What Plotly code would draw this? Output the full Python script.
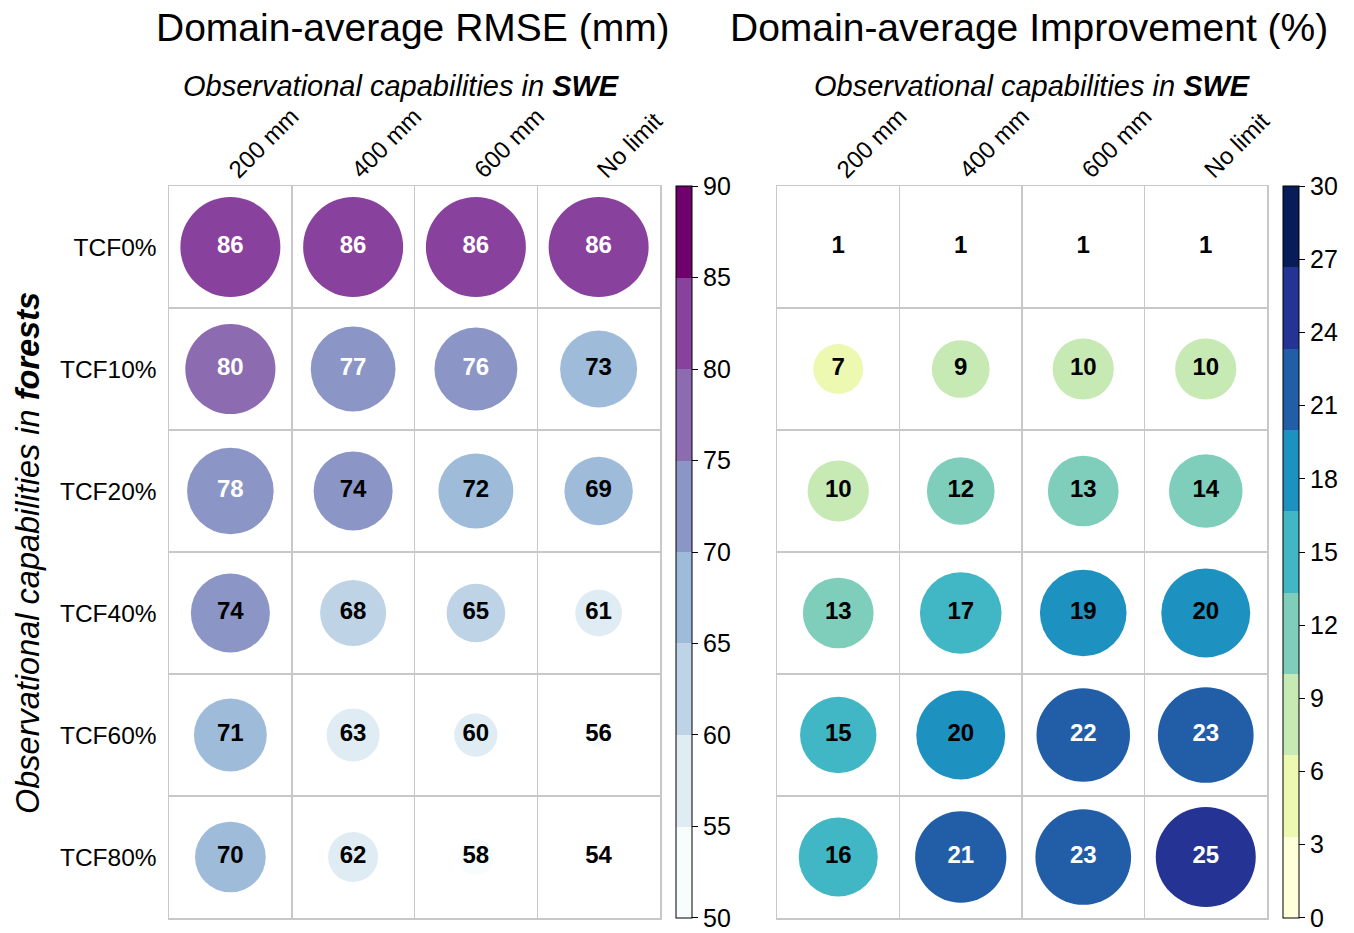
import plotly.graph_objects as go
import math

# ---------------- data ----------------
swe_labels = ["200 mm", "400 mm", "600 mm", "No limit"]
forest_labels = ["TCF0%", "TCF10%", "TCF20%", "TCF40%", "TCF60%", "TCF80%"]

rmse_tcf0 = [86, 86, 86, 86]
rmse_tcf10 = [80, 77, 76, 73]
rmse_tcf20 = [78, 74, 72, 69]
rmse_tcf40 = [74, 68, 65, 61]
rmse_tcf60 = [71, 63, 60, 56]
rmse_tcf80 = [70, 62, 58, 54]

impr_tcf0 = [1, 1, 1, 1]
impr_tcf10 = [7, 9, 10, 10]
impr_tcf20 = [10, 12, 13, 14]
impr_tcf40 = [13, 17, 19, 20]
impr_tcf60 = [15, 20, 22, 23]
impr_tcf80 = [16, 21, 23, 25]

rmse_rows = [rmse_tcf0, rmse_tcf10, rmse_tcf20, rmse_tcf40, rmse_tcf60, rmse_tcf80]
impr_rows = [impr_tcf0, impr_tcf10, impr_tcf20, impr_tcf40, impr_tcf60, impr_tcf80]

rmse_ticks = [50, 55, 60, 65, 70, 75, 80, 85, 90]
impr_ticks = [0, 3, 6, 9, 12, 15, 18, 21, 24, 27, 30]

# ---------------- styles ----------------
FONT = "Liberation Sans, Arial, Helvetica, sans-serif"
OFF = 0               # body margin removed via post_script
W, H = 1354 - OFF, 933 - OFF
GRID = "#c8c8c8"
TOP, BOTTOM = 186, 918

bupu = ["#f7fcfd", "#e0ecf4", "#bfd3e6", "#9ebcda", "#8c96c6", "#8c6bb1", "#88419d", "#6e016b"]
ylgnbu = ["#ffffd9", "#edf8b1", "#c7e9b4", "#7fcdbb", "#41b6c4", "#1d91c0", "#225ea8", "#253494", "#081d58"]

MAXD = 100  # max circle diameter in px


def px_x(p):
    return (p - OFF) / W


def px_y(p):
    return 1 - (p - OFF) / H


left_dom = [px_x(169), px_x(660)]
right_dom = [px_x(777), px_x(1267)]
y_dom = [px_y(BOTTOM), px_y(TOP)]


def discrete_scale(colors):
    n = len(colors)
    sc = []
    for i, c in enumerate(colors):
        sc.append([i / n, c])
        sc.append([(i + 1) / n, c])
    return sc


def build(rows, palette, lo, hi, white_from):
    flat = [v for r in rows for v in r]
    vmin, vmax = min(flat), max(flat)
    step = (hi - lo) / len(palette)
    xs, ys, sizes, cols, texts, tcols = [], [], [], [], [], []
    for ri, r in enumerate(rows):
        for ci, v in enumerate(r):
            xs.append(ci)
            ys.append(ri)
            sizes.append(MAXD * math.sqrt((v - vmin) / (vmax - vmin)))
            idx = int(math.floor((v - vmin) / step + 1e-9))
            idx = max(0, min(len(palette) - 1, idx))
            cols.append(palette[idx])
            texts.append(str(v))
            tcols.append("white" if v >= white_from else "black")
    return xs, ys, sizes, cols, texts, tcols


fig = go.Figure()

panels = [
    dict(rows=rmse_rows, pal=bupu, lo=50, hi=90, white=75, xa="x", ya="y",
         ticks=rmse_ticks, cbx=676),
    dict(rows=impr_rows, pal=ylgnbu, lo=0, hi=30, white=21, xa="x2", ya="y2",
         ticks=impr_ticks, cbx=1283),
]

for p in panels:
    xs, ys, sizes, cols, texts, tcols = build(p["rows"], p["pal"], p["lo"], p["hi"], p["white"])
    fig.add_trace(go.Scatter(
        x=xs, y=ys, mode="markers+text", xaxis=p["xa"], yaxis=p["ya"],
        marker=dict(size=sizes, sizemode="diameter", color=cols, line=dict(width=0), opacity=1),
        text=texts, textposition="middle center",
        textfont=dict(family=FONT, size=24, color=tcols, weight="bold"),
        showlegend=False, hoverinfo="skip", cliponaxis=False,
    ))
    eps = (p["hi"] - p["lo"]) * 1e-4
    fig.add_trace(go.Scatter(
        x=[None], y=[None], mode="markers", xaxis=p["xa"], yaxis=p["ya"],
        marker=dict(size=0, color=[p["lo"]], cmin=p["lo"] - eps, cmax=p["hi"] + eps,
                    colorscale=discrete_scale(p["pal"]), showscale=True,
                    colorbar=dict(
                        x=px_x(p["cbx"]), xanchor="left", xpad=0,
                        y=px_y((TOP + BOTTOM) / 2), yanchor="middle", ypad=0,
                        thickness=16, thicknessmode="pixels",
                        len=BOTTOM - TOP, lenmode="pixels",
                        outlinewidth=1, outlinecolor="black",
                        tickmode="array", tickvals=p["ticks"],
                        ticktext=[str(t) for t in p["ticks"]],
                        ticklabeloverflow="allow",
                        ticks="outside", ticklen=6, tickwidth=1, tickcolor="black",
                        tickfont=dict(family=FONT, size=25, color="black"),
                    )),
        showlegend=False, hoverinfo="skip",
    ))

ncol = len(swe_labels)
nrow = len(forest_labels)
col_bounds = [i - 0.5 for i in range(ncol + 1)]
row_bounds = [i - 0.5 for i in range(nrow + 1)]


def xaxis_cfg(dom, anchor):
    return dict(
        domain=dom, anchor=anchor, range=[-0.5, ncol - 0.5], side="top",
        tickmode="array", tickvals=list(range(ncol)), ticktext=swe_labels,
        tickangle=-45, tickfont=dict(family=FONT, size=24, color="black"),
        ticks="", showgrid=False, zeroline=False, ticklabelstandoff=-8,
        showline=True, mirror=True, linecolor=GRID, linewidth=1.5,
        minor=dict(tickmode="array", tickvals=col_bounds, showgrid=True,
                   gridcolor=GRID, gridwidth=1.5, ticks=""),
        automargin=False, fixedrange=True,
    )


def yaxis_cfg(anchor, show):
    return dict(
        domain=y_dom, anchor=anchor, range=[nrow - 0.5, -0.5],
        tickmode="array", tickvals=list(range(nrow)), ticktext=forest_labels,
        tickfont=dict(family=FONT, size=24.5, color="black"),
        ticks="", showgrid=False, zeroline=False, ticklabelstandoff=6,
        showticklabels=show,
        showline=True, mirror=True, linecolor=GRID, linewidth=1.5,
        minor=dict(tickmode="array", tickvals=row_bounds, showgrid=True,
                   gridcolor=GRID, gridwidth=1.5, ticks=""),
        automargin=False, fixedrange=True,
    )


fig.update_layout(
    width=W, height=H,
    margin=dict(l=0, r=0, t=0, b=0),
    paper_bgcolor="white", plot_bgcolor="white",
    xaxis=xaxis_cfg(left_dom, "y"),
    yaxis=yaxis_cfg("x", True),
    xaxis2=xaxis_cfg(right_dom, "y2"),
    yaxis2=yaxis_cfg("x2", False),
    font=dict(family=FONT, color="black"),
    hovermode=False,
)

sub = "<i>Observational capabilities in </i><b><i>SWE</i></b>"
annos = [
    dict(text="Domain-average RMSE (mm)", x=413, y=28, size=39, angle=0),
    dict(text="Domain-average Improvement (%)", x=1029, y=28, size=39, angle=0),
    dict(text=sub, x=401, y=86, size=29, angle=0),
    dict(text=sub, x=1032, y=86, size=29, angle=0),
    dict(text="<i>Observational capabilities in </i><b><i>forests</i></b>", x=28, y=553, size=32.5, angle=-90),
]
for a in annos:
    fig.add_annotation(text=a["text"], x=px_x(a["x"]), y=px_y(a["y"]), xref="paper", yref="paper",
                       xanchor="center", yanchor="middle", showarrow=False, textangle=a["angle"],
                       borderpad=0,
                       font=dict(family=FONT, size=a["size"], color="black"))

fig.write_html("out.html",
               config={"displayModeBar": False, "staticPlot": True},
               post_script="document.body.style.margin='0';document.body.style.overflow='hidden';")
